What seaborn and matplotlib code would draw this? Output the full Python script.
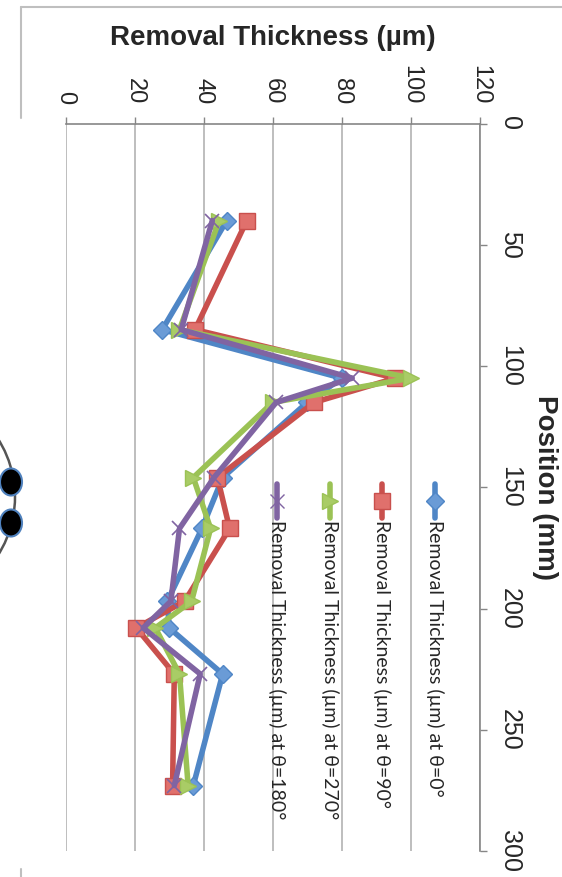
import matplotlib
matplotlib.use("Agg")
import matplotlib.pyplot as plt
from matplotlib.patches import Circle, Ellipse
import seaborn as sns
import pandas as pd

# --- data ---
positions = [40, 85, 105, 115, 146, 167, 197, 208, 227, 273]
thick_0 = [46.7, 28.0, 80.0, 70.0, 45.5, 39.5, 29.5, 30.0, 45.5, 37.0]
thick_90 = [52.5, 37.5, 95.5, 72.0, 44.0, 47.5, 34.5, 20.5, 31.5, 31.0]
thick_270 = [44.5, 33.0, 100.0, 60.0, 37.0, 42.0, 36.5, 26.0, 33.0, 35.5]
thick_180 = [42.5, 33.5, 83.0, 61.0, 43.0, 33.0, 30.5, 22.5, 39.0, 31.5]

series_names = ["Removal Thickness (µm) at θ=0°",
                "Removal Thickness (µm) at θ=90°",
                "Removal Thickness (µm) at θ=270°",
                "Removal Thickness (µm) at θ=180°"]
series_values = [thick_0, thick_90, thick_270, thick_180]
x_ticks = [0, 20, 40, 60, 80, 100, 120]
y_ticks = [0, 50, 100, 150, 200, 250, 300]

df = pd.concat([pd.DataFrame({"Position": positions, "Thickness": v, "Series": n})
                for n, v in zip(series_names, series_values)])

sns.set_style("white")
plt.rcParams['font.family'] = ['Liberation Sans', 'DejaVu Sans']

line_colors = ["#4F86C6", "#C9504D", "#9BC255", "#8064A2"]
face_colors = ["#6A9BD6", "#E0706C", "#A9CC66", "#8064A2"]
markers = ["D", "s", ">", "x"]
msizes = [9, 11, 11, 10]

fig = plt.figure(figsize=(5.62, 8.77), dpi=100)

# background bits of the page (frame and wafer sketch)
deco = fig.add_axes([0, 0, 1, 1], zorder=-1)
deco.set_xlim(0, 562)
deco.set_ylim(877, 0)
deco.axis("off")
deco.plot([21, 21], [7, 118], color="#bfbfbf", lw=1.5)
deco.plot([21, 562], [7, 7], color="#bfbfbf", lw=1.5)
deco.plot([21, 21], [869, 877], color="#bfbfbf", lw=1.5)
deco.add_patch(Circle((-93, 497), 108, fill=False, ec="#555555", lw=1.8))
for cy in [482, 523]:
    deco.add_patch(Ellipse((11, cy), 22, 27, fc="black", ec="#4F81BD", lw=1.5))

ax = fig.add_axes([65.5 / 562, 1 - 851 / 877, (480 - 65.5) / 562, (851 - 123.5) / 877])
ax.set_facecolor("none")

for name, lc, fc, mk, ms in zip(series_names, line_colors, face_colors, markers, msizes):
    sub = df[df["Series"] == name]
    sns.lineplot(data=sub, x="Thickness", y="Position", orient="y", sort=False,
                 estimator=None, ax=ax, color=lc, lw=4, marker=mk, markersize=ms,
                 markerfacecolor=fc, markeredgecolor=lc,
                 markeredgewidth=1.0 if mk != "x" else 1.2, legend=False)

ax.set_xlim(0, 120)
ax.set_ylim(300, 0)
ax.set_xticks(x_ticks)
ax.set_yticks(y_ticks)
ax.xaxis.tick_top()
ax.xaxis.set_label_position("top")
ax.yaxis.tick_right()
ax.yaxis.set_label_position("right")
ax.set_xticklabels([str(t) for t in x_ticks], rotation=-90, fontsize=17)
ax.set_yticklabels([str(t) for t in y_ticks], rotation=-90, fontsize=18, va="center")
ax.tick_params(axis="x", direction="out", length=5, width=1, color="#868686", pad=9)
ax.tick_params(axis="y", direction="out", length=5, width=1, color="#868686", pad=8)
ax.grid(axis="x", color="#b3b3b3", lw=1.2)
ax.set_axisbelow(True)
for side in ["left", "bottom"]:
    ax.spines[side].set_visible(False)
for side in ["top", "right"]:
    ax.spines[side].set_color("#868686")
    ax.spines[side].set_linewidth(1.2)

ax.set_xlabel("Removal Thickness (µm)", fontsize=20, fontweight="bold", labelpad=14)
ax.set_ylabel("Position (mm)", fontsize=20, fontweight="bold", rotation=-90,
              va="center", ha="center")
ax.yaxis.set_label_coords((545 - 65.5) / (480 - 65.5), 0.5)

# legend drawn by hand so it can be turned like the rest of the chart
leg_x = [107, 91.7, 76.7, 61.3]
for name, lc, fc, mk, ms, lx in zip(series_names, line_colors, face_colors, markers, msizes, leg_x):
    ax.plot([lx, lx], [148.5, 162.5], color=lc, lw=4, solid_capstyle="round")
    ax.plot([lx], [155.5], marker=mk, markersize=ms, color=lc,
            markerfacecolor=fc, markeredgecolor=lc)
    ax.text(lx, 163.5, name, rotation=-90, rotation_mode="anchor",
            ha="left", va="center", fontsize=14, family=["Lato", "DejaVu Sans"])

fig.savefig("out.png", dpi=100)
